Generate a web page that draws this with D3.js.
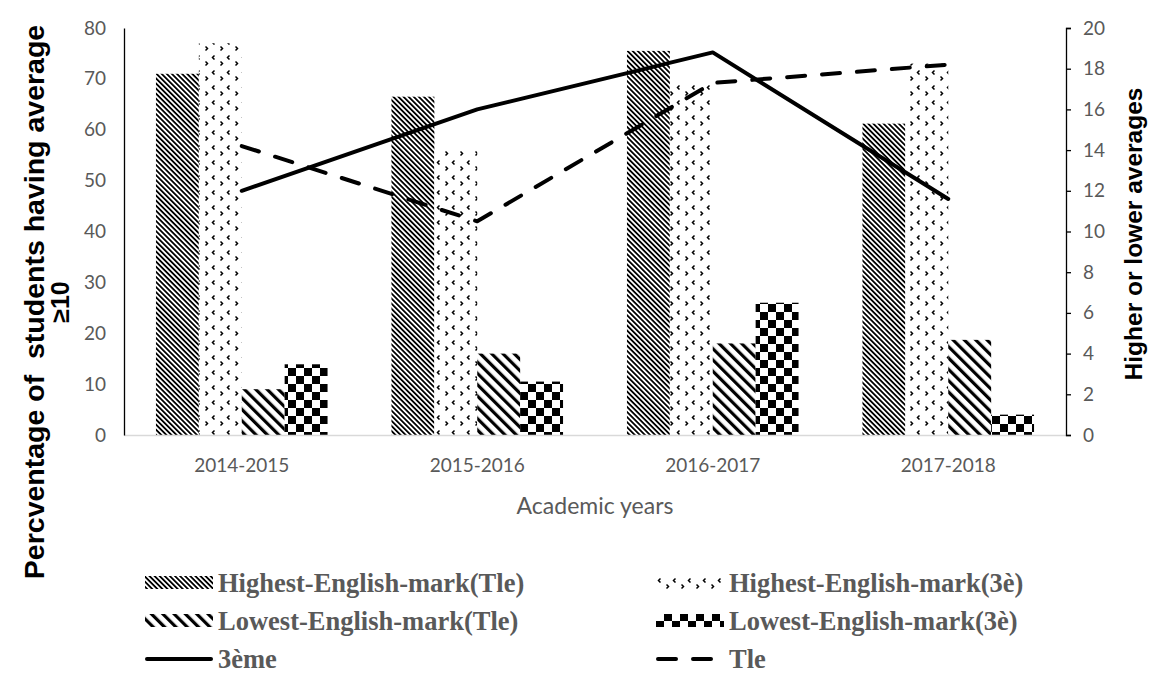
<!DOCTYPE html>
<html>
<head>
<meta charset="utf-8">
<script src="https://cdn.jsdelivr.net/npm/d3@7"></script>
<style>
  body { margin: 0; background: #fff; }
  svg { display: block; }
</style>
</head>
<body>
<div class="graph_wrapper"></div>
<script>
var years = ['2014-2015', '2015-2016', '2016-2017', '2017-2018'];
var highestTle = [71, 66.5, 75.5, 61.2];
var highest3e = [77, 56, 69, 73];
var lowestTle = [9, 16, 18, 18.7];
var lowest3e = [13.9, 10.5, 26, 4];
var avg3eme = [12, 16, 18.8, 11.6];
var avgTle = [14.2, 10.5, 17.3, 18.2];
var leftTicks = [0, 10, 20, 30, 40, 50, 60, 70, 80];
var rightTicks = [0, 2, 4, 6, 8, 10, 12, 14, 16, 18, 20];

var barSeries = [
  { name: 'Highest-English-mark(Tle)', values: highestTle, fill: 'url(#pDense)' },
  { name: 'Highest-English-mark(3è)', values: highest3e, fill: 'url(#pConfetti)' },
  { name: 'Lowest-English-mark(Tle)', values: lowestTle, fill: 'url(#pWide)' },
  { name: 'Lowest-English-mark(3è)', values: lowest3e, fill: 'url(#pChecker)' }
];
var lineSeries = [
  { name: '3ème', values: avg3eme, dash: null },
  { name: 'Tle', values: avgTle, dash: '18,17' }
];

var width = 1152;
var height = 675;
var plotLeft = 124, plotRight = 1066, plotTop = 28, plotBottom = 435;
var grey = '#595959';

var svg = d3.select('.graph_wrapper').append('svg')
  .attr('width', width).attr('height', height);

// patterns
var defs = svg.append('defs');

var dense = defs.append('pattern').attr('id', 'pDense')
  .attr('patternUnits', 'userSpaceOnUse').attr('width', 3.6).attr('height', 10)
  .attr('patternTransform', 'rotate(-45)');
dense.append('rect').attr('width', 3.6).attr('height', 10).attr('fill', '#fff');
dense.append('rect').attr('width', 1.8).attr('height', 10).attr('fill', '#000');

var wide = defs.append('pattern').attr('id', 'pWide')
  .attr('patternUnits', 'userSpaceOnUse').attr('width', 8).attr('height', 10)
  .attr('patternTransform', 'rotate(-45)');
wide.append('rect').attr('width', 8).attr('height', 10).attr('fill', '#fff');
wide.append('rect').attr('width', 3.2).attr('height', 10).attr('fill', '#000');

var checker = defs.append('pattern').attr('id', 'pChecker')
  .attr('patternUnits', 'userSpaceOnUse').attr('width', 16).attr('height', 16);
checker.append('rect').attr('width', 16).attr('height', 16).attr('fill', '#fff');
checker.append('rect').attr('width', 8).attr('height', 8).attr('fill', '#000');
checker.append('rect').attr('x', 8).attr('y', 8).attr('width', 8).attr('height', 8).attr('fill', '#000');

var confetti = defs.append('pattern').attr('id', 'pConfetti')
  .attr('patternUnits', 'userSpaceOnUse').attr('width', 15).attr('height', 15);
confetti.append('rect').attr('width', 15).attr('height', 15).attr('fill', '#fff');
confetti.append('path').attr('d', 'M10.5,1.5 L12.5,3.5 L10.5,5.5')
  .attr('fill', 'none').attr('stroke', '#000').attr('stroke-width', 1.5);
confetti.append('path').attr('d', 'M4.5,10.5 L2.5,12.5 L4.5,14.5')
  .attr('fill', 'none').attr('stroke', '#000').attr('stroke-width', 1.5);

// scales
var x0 = d3.scaleBand().domain(years).range([plotLeft, plotRight]).padding(0);
var x1 = d3.scaleBand().domain(d3.range(barSeries.length))
  .range([0, x0.bandwidth()]).paddingInner(0).paddingOuter(0.745);
var yL = d3.scaleLinear().domain([0, 80]).range([plotBottom, plotTop]);
var yR = d3.scaleLinear().domain([0, 20]).range([plotBottom, plotTop]);

// bars
barSeries.forEach(function (s, si) {
  svg.append('g').selectAll('rect').data(s.values).enter().append('rect')
    .attr('x', function (d, i) { return x0(years[i]) + x1(si); })
    .attr('y', function (d) { return yL(d); })
    .attr('width', x1.bandwidth())
    .attr('height', function (d) { return plotBottom - yL(d); })
    .attr('fill', s.fill);
});

// bottom axis
var xAxis = svg.append('g').attr('transform', 'translate(0,' + plotBottom + ')')
  .call(d3.axisBottom(x0).tickSize(0).tickPadding(24));
xAxis.select('.domain').attr('stroke', '#d9d9d9').attr('stroke-width', 1.3);
xAxis.selectAll('text').attr('fill', grey).style('font-family', 'Lato')
  .style('font-size', '19px');

// left axis
var lAxis = svg.append('g').attr('transform', 'translate(' + plotLeft + ',0)')
  .call(d3.axisLeft(yL).tickValues(leftTicks).tickSize(0).tickPadding(18));
lAxis.select('.domain').attr('stroke', '#000').attr('stroke-width', 1.3);
lAxis.selectAll('text').attr('fill', grey).style('font-family', 'Lato')
  .style('font-size', '19px');

// right axis
var rAxis = svg.append('g').attr('transform', 'translate(' + plotRight + ',0)')
  .call(d3.axisRight(yR).tickValues(rightTicks).tickSize(5).tickPadding(12).tickSizeOuter(5));
rAxis.select('.domain').attr('stroke', '#000').attr('stroke-width', 1.3);
rAxis.selectAll('line').attr('stroke', '#000').attr('stroke-width', 1.3);
rAxis.selectAll('text').attr('fill', grey).style('font-family', 'Lato')
  .style('font-size', '19px');

// lines
var line = d3.line()
  .x(function (d, i) { return x0(years[i]) + x0.bandwidth() / 2; })
  .y(function (d) { return yR(d); });

lineSeries.forEach(function (s) {
  svg.append('path').datum(s.values)
    .attr('d', line)
    .attr('fill', 'none')
    .attr('stroke', '#000')
    .attr('stroke-width', 4)
    .attr('stroke-linecap', 'round')
    .attr('stroke-linejoin', 'round')
    .attr('stroke-dasharray', s.dash);
});

// axis titles
svg.append('text')
  .attr('transform', 'translate(595,514)')
  .attr('text-anchor', 'middle')
  .attr('fill', grey)
  .style('font-family', 'Lato').style('font-size', '23px')
  .text('Academic years');

var lt = svg.append('text')
  .attr('transform', 'translate(44,302) rotate(-90)')
  .attr('text-anchor', 'middle')
  .style('font-family', 'Liberation Sans, Arial').style('font-weight', 'bold')
  .style('font-size', '28.5px')
  .style('white-space', 'pre');
lt.append('tspan').attr('x', 0).attr('y', 0).text('Percventage of  students having average');
lt.append('tspan').attr('x', 0).attr('y', 25).style('font-size', '25px').text('≥10');

svg.append('text')
  .attr('transform', 'translate(1142,234) rotate(-90)')
  .attr('text-anchor', 'middle')
  .style('font-family', 'Liberation Sans, Arial').style('font-weight', 'bold')
  .style('font-size', '24.5px')
  .text('Higher or lower averages');

// legend
var legendItems = [
  { s: barSeries[0], kind: 'bar', col: 0, row: 0 },
  { s: barSeries[1], kind: 'bar', col: 1, row: 0 },
  { s: barSeries[2], kind: 'bar', col: 0, row: 1 },
  { s: barSeries[3], kind: 'bar', col: 1, row: 1 },
  { s: lineSeries[0], kind: 'line', col: 0, row: 2 },
  { s: lineSeries[1], kind: 'line', col: 1, row: 2 }
];
var colX = [145, 656];
var rowY = [583, 621, 659];

var legend = svg.selectAll('.legend').data(legendItems).enter().append('g')
  .attr('class', 'legend')
  .attr('transform', function (d) {
    return 'translate(' + colX[d.col] + ',' + rowY[d.row] + ')';
  });

legend.filter(function (d) { return d.kind === 'bar'; }).append('rect')
  .attr('x', 0).attr('y', -7).attr('width', 68).attr('height', 13)
  .attr('fill', function (d) { return d.s.fill; });

legend.filter(function (d) { return d.kind === 'line'; }).append('line')
  .attr('x1', 2).attr('x2', 66).attr('y1', 0).attr('y2', 0)
  .attr('stroke', '#000').attr('stroke-width', 4)
  .attr('stroke-linecap', 'round')
  .attr('stroke-dasharray', function (d) { return d.s.dash; });

legend.append('text')
  .attr('x', 73).attr('y', 0).attr('dy', '0.35em')
  .attr('fill', grey)
  .style('font-family', 'Liberation Serif, Times New Roman').style('font-weight', 'bold')
  .style('font-size', '26.5px')
  .text(function (d) { return d.s.name; });
</script>
</body>
</html>
